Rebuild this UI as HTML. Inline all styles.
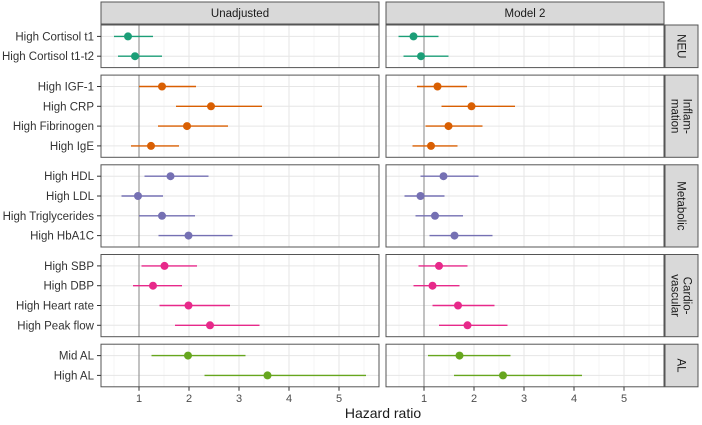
<!DOCTYPE html>
<html><head><meta charset="utf-8">
<style>
html,body{margin:0;padding:0;background:#fff;}
svg{display:block;font-family:"Liberation Sans",Arial,sans-serif;}
</style></head>
<body>
<svg id="chart" width="702" height="425" viewBox="0 0 702 425"></svg>
<script>
const groups = ["NEU","Inflam-\nmation","Metabolic","Cardio-\nvascular","AL"];
const groupRows = [
  ["High Cortisol t1","High Cortisol t1-t2"],
  ["High IGF-1","High CRP","High Fibrinogen","High IgE"],
  ["High HDL","High LDL","High Triglycerides","High HbA1C"],
  ["High SBP","High DBP","High Heart rate","High Peak flow"],
  ["Mid AL","High AL"]
];
const groupColors = ["#1b9e77","#d95f02","#7570b3","#e7298a","#66a61e"];
const models = ["Unadjusted","Model 2"];
const unadjEst = [[0.78,0.92],[1.46,2.44,1.96,1.24],[1.63,0.98,1.46,1.99],[1.51,1.28,1.99,2.42],[1.98,3.57]];
const unadjLo  = [[0.50,0.58],[1.00,1.74,1.38,0.84],[1.11,0.65,1.00,1.39],[1.05,0.88,1.41,1.72],[1.25,2.31]];
const unadjHi  = [[1.28,1.46],[2.14,3.46,2.78,1.80],[2.39,1.48,2.12,2.87],[2.16,1.86,2.82,3.41],[3.13,5.54]];
const m2Est = [[0.79,0.94],[1.27,1.95,1.49,1.14],[1.39,0.93,1.22,1.61],[1.30,1.17,1.68,1.87],[1.71,2.58]];
const m2Lo  = [[0.49,0.59],[0.86,1.35,1.03,0.77],[0.93,0.61,0.83,1.11],[0.89,0.79,1.17,1.30],[1.08,1.60]];
const m2Hi  = [[1.29,1.49],[1.86,2.82,2.17,1.67],[2.09,1.41,1.78,2.37],[1.87,1.71,2.41,2.67],[2.73,4.16]];
const xTicks = [1,2,3,4,5];

const NS="http://www.w3.org/2000/svg";
const svg=document.getElementById('chart');
function el(tag,attrs,parent){const e=document.createElementNS(NS,tag);for(const k in attrs)e.setAttribute(k,attrs[k]);(parent||svg).appendChild(e);return e;}

const panelX=[101,386], panelW=278, xMin=0.24, xMax=5.8;
function xScale(p,v){return panelX[p]+(v-xMin)/(xMax-xMin)*panelW;}
const rowH=19.8, topY=25, gap=7.5;
const ests=[unadjEst,m2Est], los=[unadjLo,m2Lo], his=[unadjHi,m2Hi];

// top strips
models.forEach((m,p)=>{
  const r=el('rect',{x:panelX[p],y:2,width:panelW,height:22,fill:'#d9d9d9',stroke:'#555','stroke-width':1});
  
  
  const t=el('text',{x:panelX[p]+panelW/2,y:17,'text-anchor':'middle','font-size':11.5,fill:'#1a1a1a'});
  t.textContent=m;
  
  
});

let y0=topY;
groups.forEach((g,gi)=>{
  const n=groupRows[gi].length;
  const h=n*rowH+3;
  const rowY=i=>y0+1.5+rowH*(i+0.5);
  for(let p=0;p<2;p++){
    const bg=el('rect',{x:panelX[p],y:y0,width:panelW,height:h,fill:'#fff'});
    
    
    // minor grid
    for(let v=0.5;v<=5.5;v+=1){
      const l=el('line',{x1:xScale(p,v),x2:xScale(p,v),y1:y0,y2:y0+h,stroke:'#f2f2f2','stroke-width':0.7});
      
      
    }
    xTicks.forEach(v=>{
      const l=el('line',{x1:xScale(p,v),x2:xScale(p,v),y1:y0,y2:y0+h,stroke:'#e6e6e6','stroke-width':1});
      
      
    });
    for(let i=0;i<n;i++){
      const l=el('line',{x1:panelX[p],x2:panelX[p]+panelW,y1:rowY(i),y2:rowY(i),stroke:'#e6e6e6','stroke-width':1});
      
      
    }
    const ref=el('line',{x1:xScale(p,1),x2:xScale(p,1),y1:y0,y2:y0+h,stroke:'#999','stroke-width':1.2});
    
    
    for(let i=0;i<n;i++){
      const yy=rowY(i);
      const ci=el('line',{x1:xScale(p,los[p][gi][i]),x2:xScale(p,his[p][gi][i]),y1:yy,y2:yy,stroke:groupColors[gi],'stroke-width':1.4});
      
      
      const pt=el('circle',{cx:xScale(p,ests[p][gi][i]),cy:yy,r:4,fill:groupColors[gi]});
      
      
    }
    const b=el('rect',{x:panelX[p],y:y0,width:panelW,height:h,fill:'none',stroke:'#555','stroke-width':1});
    
    
  }
  // y labels
  for(let i=0;i<n;i++){
    const t=el('text',{x:94,y:rowY(i)+4,'text-anchor':'end','font-size':11.5,fill:'#333'});
    t.textContent=groupRows[gi][i];
    
    
    const tk=el('line',{x1:97,x2:101,y1:rowY(i),y2:rowY(i),stroke:'#333','stroke-width':1});
    
    
  }
  // right strip
  const s=el('rect',{x:665,y:y0,width:33,height:h,fill:'#d9d9d9',stroke:'#555','stroke-width':1});
  
  
  const lines=g.split('\n');
  const cx=681.5, cy=y0+h/2;
  const t=el('text',{transform:`translate(${cx},${cy}) rotate(90)`,'text-anchor':'middle','font-size':11.5,fill:'#1a1a1a'});
  
  
  lines.forEach((ln,k)=>{
    const ts=el('tspan',{x:0,y:(k-(lines.length-1)/2)*12+4},t);
    ts.textContent=ln;
  });
  y0+=h+gap;
});

// x axis
const axisY=y0-gap;
for(let p=0;p<2;p++){
  xTicks.forEach(v=>{
    const tk=el('line',{x1:xScale(p,v),x2:xScale(p,v),y1:axisY,y2:axisY+4,stroke:'#333','stroke-width':1});
    
    
    const t=el('text',{x:xScale(p,v),y:axisY+15,'text-anchor':'middle','font-size':11,fill:'#4d4d4d'});
    t.textContent=v;
    
    
  });
}
const xt=el('text',{x:383,y:418,'text-anchor':'middle','font-size':14,fill:'#1a1a1a'});
xt.textContent='Hazard ratio';


</script>
</body></html>
